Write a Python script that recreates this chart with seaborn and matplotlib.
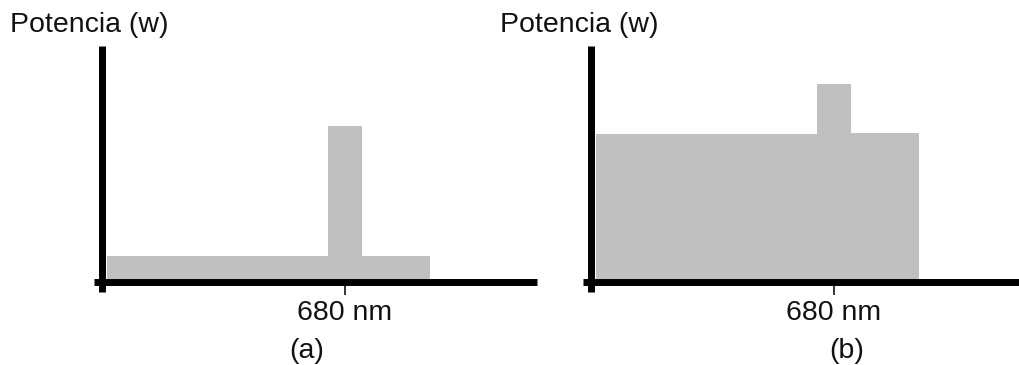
import numpy as np
import pandas as pd
import matplotlib
matplotlib.use("Agg")
import matplotlib.pyplot as plt
import seaborn as sns

# Spectral bands (nm) and emitted power in each band for the two sources
band_edges = [400, 660, 700, 780]
power_a = [1.3, 7.8, 1.3]
power_b = [7.4, 9.9, 7.4]
tick_nm = [680]
tick_labels = ["680 nm"]
y_label = "Potencia (w)"
panel_labels = ["(a)", "(b)"]

sns.set_style("white")
plt.rcParams["font.family"] = ["Liberation Sans", "DejaVu Sans"]

W, H = 1019, 365
fig = plt.figure(figsize=(W / 100, H / 100), dpi=100)
fig.patch.set_facecolor("white")

GRAY = "#c0c0c0"
INK = "#111111"
FS = 20.5


def box(left, top, width, height):
    return [left / W, 1 - (top + height) / H, width / W, height / H]


centers = [(a + b) / 2 for a, b in zip(band_edges[:-1], band_edges[1:])]
panels = [(94, power_a), (583, power_b)]

for i, (left_px, power) in enumerate(panels):
    ax = fig.add_axes(box(left_px, 46, 443, 246))
    df = pd.DataFrame({"nm": centers, "power": power})
    sns.histplot(data=df, x="nm", weights="power", bins=band_edges, ax=ax,
                 color=GRAY, alpha=1, edgecolor="none", linewidth=0)
    ax.set_xlim(385.3, 905.3)
    ax.set_ylim(-0.525, 11.775)
    ax.set_xlabel("")
    ax.set_ylabel("")
    ax.set_facecolor("none")
    for side in ("top", "right"):
        ax.spines[side].set_visible(False)
    ax.spines["left"].set_position(("data", 395))
    ax.spines["bottom"].set_position(("data", 0))
    for side in ("left", "bottom"):
        sp = ax.spines[side]
        sp.set_linewidth(5.0)
        sp.set_color("black")
        sp.set_capstyle("butt")
        sp.set_zorder(3)
    ax.set_yticks([])
    ax.set_xticks(tick_nm, labels=tick_labels)
    ax.tick_params(axis="x", which="major", bottom=True, direction="inout",
                   length=18.7, width=1.1, color="black", pad=4,
                   labelsize=FS, labelcolor=INK)

    # axis title above the vertical axis
    fig.text((10 + 490 * i) / W, 1 - 32 / H, y_label, ha="left",
             va="baseline", fontsize=FS, color=INK)

# panel tags under each plot
fig.text(307 / W, 1 - 358 / H, panel_labels[0], ha="center", va="baseline",
         fontsize=FS, color=INK)
fig.text(847 / W, 1 - 358 / H, panel_labels[1], ha="center", va="baseline",
         fontsize=FS, color=INK)

fig.savefig("out.png", dpi=100, facecolor="white")
